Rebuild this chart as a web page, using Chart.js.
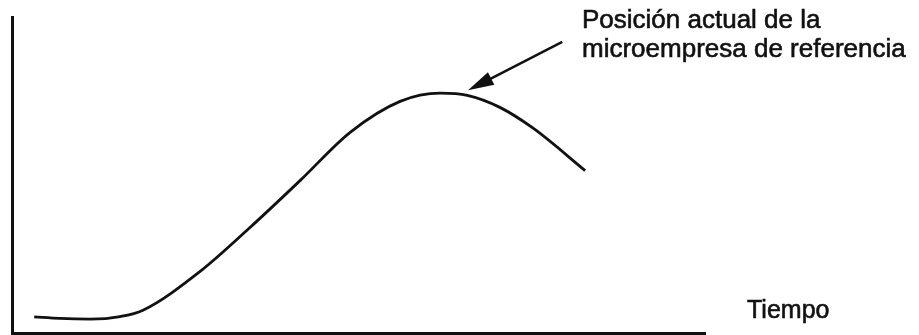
<!DOCTYPE html>
<html>
<head>
<meta charset="utf-8">
<script src="https://cdn.jsdelivr.net/npm/chart.js@4.4.1/dist/chart.umd.min.js"></script>
<style>
  html, body { margin: 0; padding: 0; background: #fff; }
  #wrap { position: relative; width: 919px; height: 335px; }
</style>
</head>
<body>
<div id="wrap"><canvas id="curva"></canvas></div>
<script>
// tiempo (eje x) y nivel (eje y), escala 0-100
const TIEMPO = [3.2, 6.9, 11.3, 15.6, 18.9, 27.1, 34.3, 41.6, 48.8, 56.0, 61.8, 65.7, 70.4, 75.2, 82.7];
const NIVEL = [5.1, 4.6, 4.4, 5.2, 7.2, 19.4, 33.3, 48.3, 63.5, 73.3, 75.9, 75.2, 71.4, 64.8, 51.4];

const NOTA = ['Posición actual de la', 'microempresa de referencia'];
const EJE_X = 'Tiempo';
// flecha: desde la nota hasta la posición actual
const FLECHA_DESDE = { x: 79.4, y: 92.1 };
const FLECHA_HASTA = { x: 65.8, y: 76.8 };

const puntos = TIEMPO.map((t, i) => ({ x: t, y: NIVEL[i] }));

const notas = {
    id: 'notas',
    afterDraw(chart) {
        const ctx = chart.ctx;
        const sx = chart.scales.x, sy = chart.scales.y;
        const x0 = sx.getPixelForValue(FLECHA_DESDE.x), y0 = sy.getPixelForValue(FLECHA_DESDE.y);
        const x1 = sx.getPixelForValue(FLECHA_HASTA.x), y1 = sy.getPixelForValue(FLECHA_HASTA.y);
        const ang = Math.atan2(y1 - y0, x1 - x0);
        const largo = 26, ancho = 7;
        ctx.save();
        ctx.strokeStyle = '#111';
        ctx.fillStyle = '#111';
        ctx.lineWidth = 2.5;
        ctx.beginPath();
        ctx.moveTo(x0, y0);
        ctx.lineTo(x1 - Math.cos(ang) * largo * 0.8, y1 - Math.sin(ang) * largo * 0.8);
        ctx.stroke();
        ctx.beginPath();
        ctx.moveTo(x1, y1);
        ctx.lineTo(x1 - Math.cos(ang) * largo - Math.sin(ang) * ancho, y1 - Math.sin(ang) * largo + Math.cos(ang) * ancho);
        ctx.lineTo(x1 - Math.cos(ang) * largo + Math.sin(ang) * ancho, y1 - Math.sin(ang) * largo - Math.cos(ang) * ancho);
        ctx.closePath();
        ctx.fill();

        // texto un poco más grueso, como en la imagen escaneada
        ctx.lineWidth = 0.6;
        ctx.font = '26px "Liberation Sans", Arial, sans-serif';
        ctx.textBaseline = 'alphabetic';
        ctx.textAlign = 'left';
        NOTA.forEach((linea, i) => {
            ctx.fillText(linea, 582, 28 + i * 29);
            ctx.strokeText(linea, 582, 28 + i * 29);
        });
        ctx.font = '25px "Liberation Sans", Arial, sans-serif';
        ctx.fillText(EJE_X, 747, 318);
        ctx.strokeText(EJE_X, 747, 318);
        ctx.restore();
    }
};

new Chart(document.getElementById('curva'), {
    type: 'line',
    data: {
        datasets: [{
            data: puntos,
            borderColor: '#111',
            borderWidth: 2.8,
            pointRadius: 0,
            cubicInterpolationMode: 'monotone',
            fill: false
        }]
    },
    options: {
        responsive: true,
        maintainAspectRatio: false,
        animation: false,
        layout: {
            padding: { left: 12, right: 214, top: 17, bottom: 2 }
        },
        scales: {
            x: {
                type: 'linear',
                min: 0,
                max: 100,
                grid: { display: false },
                ticks: { display: false },
                border: { display: true, color: '#111', width: 3 },
                afterFit: (s) => { s.height = 0; }
            },
            y: {
                min: 0,
                max: 100,
                grid: { display: false },
                ticks: { display: false },
                border: { display: true, color: '#111', width: 3 },
                afterFit: (s) => { s.width = 0; }
            }
        },
        plugins: {
            legend: { display: false },
            tooltip: { enabled: false }
        }
    },
    plugins: [notas]
});
</script>
</body>
</html>
